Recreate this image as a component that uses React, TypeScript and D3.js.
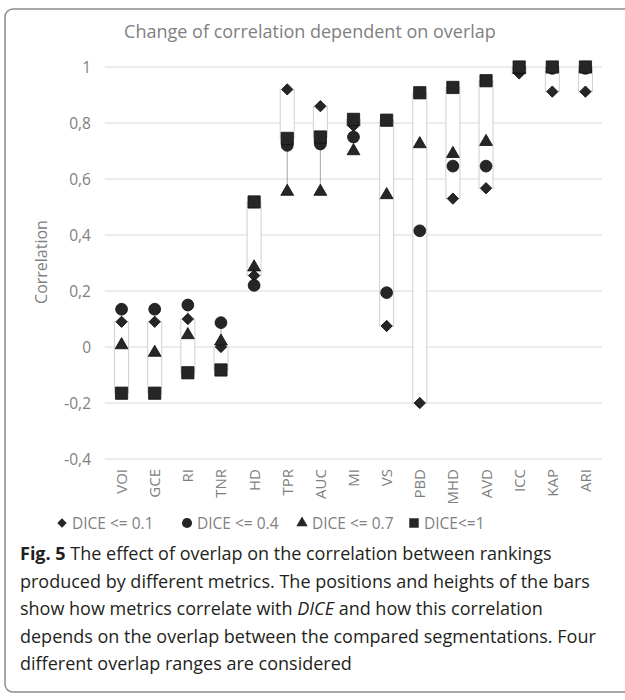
import React from 'react';
import * as d3 from 'd3';

const categories = ['VOI', 'GCE', 'RI', 'TNR', 'HD', 'TPR', 'AUC', 'MI', 'VS', 'PBD', 'MHD', 'AVD', 'ICC', 'KAP', 'ARI'];
const dice01 = [0.09, 0.09, 0.1, 0.0, 0.255, 0.92, 0.86, 0.79, 0.075, -0.2, 0.53, 0.567, 0.977, 0.912, 0.912];
const dice04 = [0.135, 0.135, 0.15, 0.087, 0.22, 0.72, 0.725, 0.75, 0.194, 0.415, 0.646, 0.646, 0.995, 0.995, 0.995];
const dice07 = [0.007, -0.02, 0.043, 0.02, 0.285, 0.555, 0.555, 0.7, 0.543, 0.725, 0.69, 0.733, 0.99, 0.995, 0.995];
const dice1 = [-0.165, -0.165, -0.092, -0.082, 0.518, 0.745, 0.75, 0.813, 0.81, 0.908, 0.927, 0.951, 1.0, 1.0, 1.0];
const yTicks = [1, 0.8, 0.6, 0.4, 0.2, 0, -0.2, -0.4];
const seriesNames = ['DICE <= 0.1', 'DICE <= 0.4', 'DICE <= 0.7', 'DICE<=1'];

const captionLines = [
  'produced by different metrics. The positions and heights of the bars',
  null,
  'depends on the overlap between the compared segmentations. Four',
  'different overlap ranges are considered',
];

const W = 625;
const H = 700;
const font = "'Open Sans', sans-serif";
const grey = '#7f7f7f';
const markFill = '#262626';

const x = d3.scaleBand().domain(categories).range([105, 602]).padding(0);
const y = d3.scaleLinear().domain([-0.4, 1]).range([459, 67]);

const shapes = [
  { path: d3.symbol(d3.symbolSquare, 64)(), rot: 45 },
  { path: d3.symbol(d3.symbolCircle, 110)(), rot: 0 },
  { path: d3.symbol(d3.symbolTriangle, 72)(), rot: 0 },
  { path: d3.symbol(d3.symbolSquare, 150)(), rot: 0 },
];
const legendShapes = [
  { path: d3.symbol(d3.symbolSquare, 44)(), rot: 45 },
  { path: d3.symbol(d3.symbolCircle, 80)(), rot: 0 },
  { path: d3.symbol(d3.symbolTriangle, 56)(), rot: 0 },
  { path: d3.symbol(d3.symbolSquare, 90)(), rot: 0 },
];

const series = [dice01, dice04, dice07, dice1];
const legendX = [62, 187, 302, 414];

export default function App() {
  const bw = 14;
  return (
    <div style={{ position: 'absolute', left: 0, top: 0 }}>
      <svg width={W} height={H} style={{ display: 'block', background: '#fff' }}>
        <rect x={5} y={9} width={640} height={683} rx={8} fill="#fff" stroke="#8c8c8c" strokeWidth={1.5} />
        <text x={310} y={38} textAnchor="middle" fontFamily={font} fontSize={18} fill={grey}>
          Change of correlation dependent on overlap
        </text>
        {yTicks.map((t) => (
          <g key={t}>
            <line x1={105} x2={602} y1={y(t)} y2={y(t)} stroke="#e6e6e6" strokeWidth={1.3} />
            <text x={91} y={y(t) + 5.5} textAnchor="end" fontFamily={font} fontSize={15.5} fill={grey}>
              {String(t).replace('.', ',')}
            </text>
          </g>
        ))}
        <text
          transform={`translate(47,262) rotate(-90)`}
          textAnchor="middle"
          fontFamily={font}
          fontSize={16}
          fill={grey}
        >
          Correlation
        </text>
        {categories.map((c, i) => {
          const cx = x(c)! + x.bandwidth() / 2;
          const vals = series.map((s) => s[i]);
          const lo = Math.min(...vals);
          const hi = Math.max(...vals);
          const top = Math.max(dice01[i], dice1[i]);
          const bot = Math.min(dice01[i], dice1[i]);
          return (
            <g key={c}>
              <line x1={cx} x2={cx} y1={y(hi)} y2={y(lo)} stroke="#a6a6a6" strokeWidth={1} />
              <rect x={cx - bw / 2} y={y(top)} width={bw} height={y(bot) - y(top)} fill="#fff" stroke="#d0d0d0" strokeWidth={1} />
              <text
                transform={`translate(${cx + 5.5},469) rotate(-90)`}
                textAnchor="end"
                fontFamily={font}
                fontSize={15}
                fill={grey}
              >
                {c}
              </text>
            </g>
          );
        })}
        {series.map((s, si) =>
          s.map((v, i) => (
            <path
              key={`${si}-${i}`}
              d={shapes[si].path!}
              transform={`translate(${x(categories[i])! + x.bandwidth() / 2},${y(v)}) rotate(${shapes[si].rot})`}
              fill={markFill}
              stroke="#111"
              strokeWidth={0.8}
            />
          ))
        )}
        {seriesNames.map((n, i) => (
          <g key={n}>
            <path
              d={legendShapes[i].path!}
              transform={`translate(${legendX[i]},523) rotate(${legendShapes[i].rot})`}
              fill={markFill}
            />
            <text x={legendX[i] + 10} y={528.5} fontFamily={font} fontSize={15.5} fill={grey}>
              {n}
            </text>
          </g>
        ))}
        <g fontFamily={font} fontSize={18} fill="#231f20">
          <text x={20} y={560}>
            <tspan fontWeight="bold">Fig. 5</tspan> The effect of overlap on the correlation between rankings
          </text>
          <text x={20} y={587.5}>{captionLines[0]}</text>
          <text x={20} y={615}>
            show how metrics correlate with <tspan fontStyle="italic">DICE</tspan> and how this correlation
          </text>
          <text x={20} y={642.5}>{captionLines[2]}</text>
          <text x={20} y={670}>{captionLines[3]}</text>
        </g>
      </svg>
    </div>
  );
}
